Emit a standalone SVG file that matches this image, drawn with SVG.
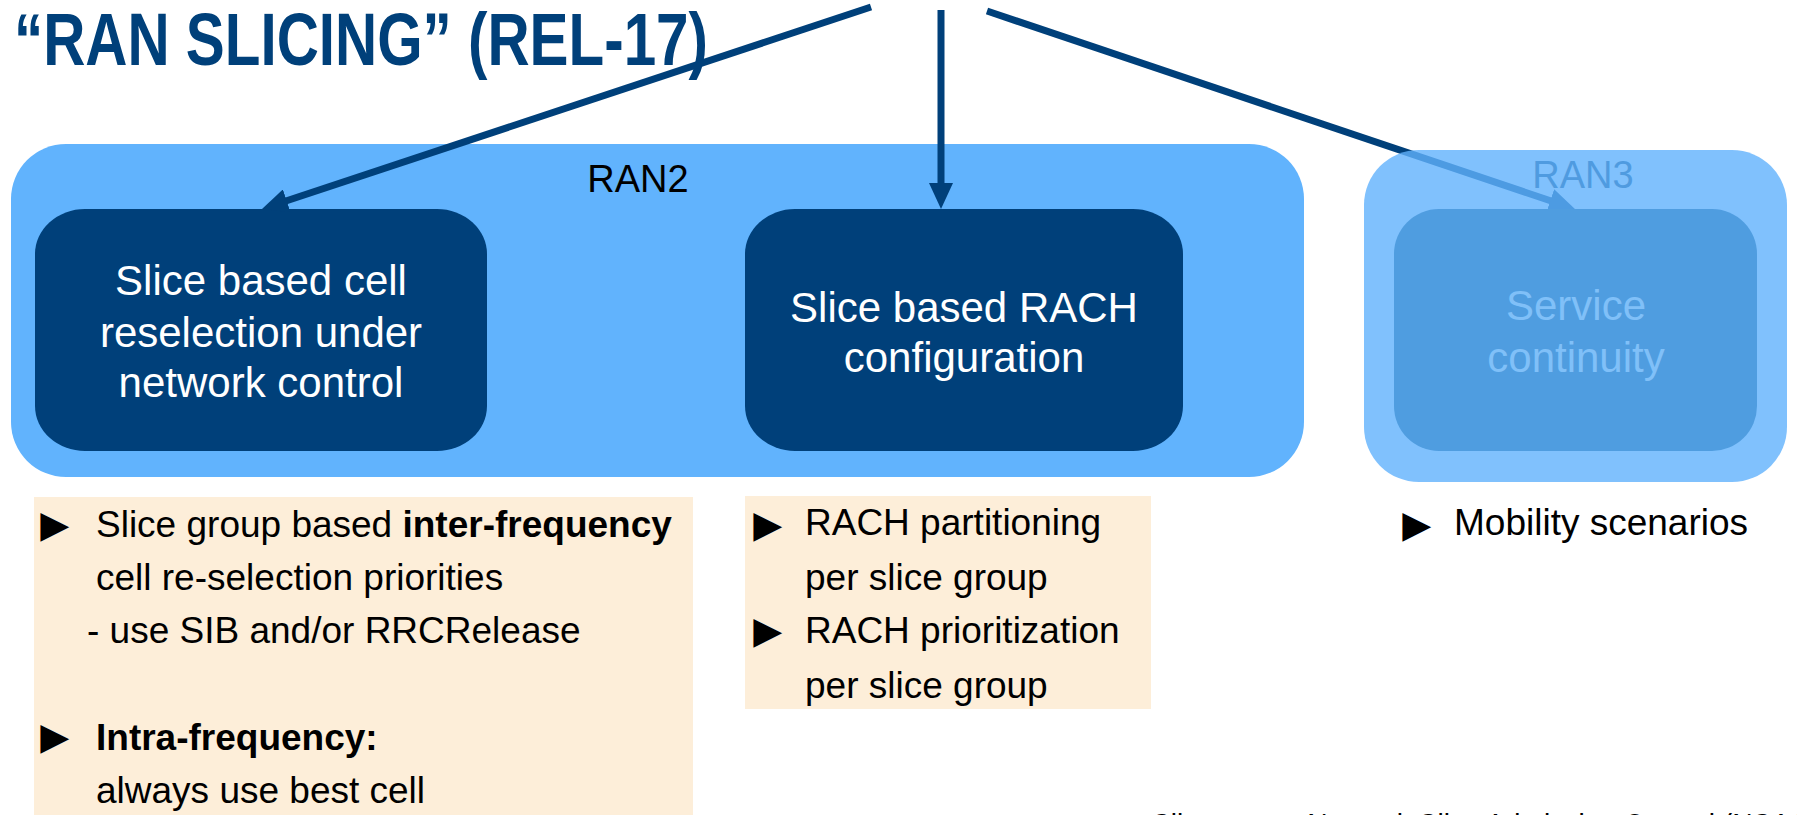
<svg xmlns="http://www.w3.org/2000/svg" width="1797" height="815" viewBox="0 0 1797 815">
<style>
text{font-family:"Liberation Sans",Arial,sans-serif}
.title{font-size:75px;font-weight:bold;fill:#00407a}
.lbl{font-size:38px;text-anchor:middle}
.node{font-size:42px;fill:#ffffff;text-anchor:middle}
.dark{fill:#00407a}
.note{fill:#fdeed9}
.body{font-size:37px;fill:#000000}
.b{font-weight:bold}
.bul{font-size:48px;fill:#000000}
.conn{stroke:#00407a;stroke-width:7;fill:none;marker-end:url(#ah)}
</style>
<defs>
<marker id="ah" markerUnits="userSpaceOnUse" markerWidth="26" markerHeight="24" refX="8" refY="12" orient="auto">
<path d="M0,0 L26,12 L0,24 z" fill="#00407a"/>
</marker>
</defs>
<rect width="1797" height="815" fill="#ffffff"/>
<g id="title">
<text class="title" x="14" y="65" textLength="694" lengthAdjust="spacingAndGlyphs">“RAN SLICING” (REL-17)</text>
</g>
<g id="ran2">
<rect x="11" y="144" width="1293" height="333" rx="55" ry="55" fill="#61b3fd"/>
<text class="lbl" x="638" y="192" fill="#000000">RAN2</text>
</g>
<g id="node-cell-reselection">
<rect class="dark" x="35" y="209" width="452" height="242" rx="50" ry="45"/>
<text class="node" x="261" y="295">Slice based cell</text>
<text class="node" x="261" y="347">reselection under</text>
<text class="node" x="261" y="397">network control</text>
</g>
<g id="node-rach">
<rect class="dark" x="745" y="209" width="438" height="242" rx="50" ry="45"/>
<text class="node" x="964" y="322">Slice based RACH</text>
<text class="node" x="964" y="372">configuration</text>
</g>
<g id="connectors">
<line class="conn" x1="871" y1="7" x2="279.1" y2="203.3"/>
<line class="conn" x1="941" y1="10" x2="941" y2="191"/>
<line class="conn" x1="987" y1="11" x2="1557.9" y2="203.3"/>
</g>
<g id="ran3">
<rect x="1364" y="150" width="423" height="332" rx="55" ry="55" fill="#60b2fc" fill-opacity="0.8"/>
<text class="lbl" x="1583" y="188" fill="#4f9be0">RAN3</text>
</g>
<g id="node-service-continuity">
<rect x="1394" y="209" width="363" height="242" rx="45" ry="45" fill="#4f9de0"/>
<text class="node" x="1576" y="320" style="fill:#80c0f8">Service</text>
<text class="node" x="1576" y="372" style="fill:#80c0f8">continuity</text>
</g>
<g id="notes-ran2-cell">
<rect class="note" x="34" y="497" width="659" height="318"/>
<text class="bul" x="31" y="541">►</text>
<text class="body" x="96" y="537">Slice group based <tspan class="b">inter-frequency</tspan></text>
<text class="body" x="96" y="590">cell re-selection priorities</text>
<text class="body" x="87" y="643">- use SIB and/or RRCRelease</text>
<text class="bul" x="31" y="753">►</text>
<text class="body b" x="96" y="750">Intra-frequency:</text>
<text class="body" x="96" y="803">always use best cell</text>
</g>
<g id="notes-ran2-rach">
<rect class="note" x="745" y="496" width="406" height="213"/>
<text class="bul" x="744" y="541">►</text>
<text class="body" x="805" y="535">RACH partitioning</text>
<text class="body" x="805" y="590">per slice group</text>
<text class="bul" x="744" y="647">►</text>
<text class="body" x="805" y="643">RACH prioritization</text>
<text class="body" x="805" y="698">per slice group</text>
</g>
<g id="notes-ran3">
<text class="bul" x="1393" y="541">►</text>
<text class="body" x="1454" y="535">Mobility scenarios</text>
</g>
<g id="footer">
<text class="body" x="1152" y="840" textLength="668" lengthAdjust="spacingAndGlyphs">Slice quota: Network Slice Admission Control (NSAC)</text>
</g>
</svg>
